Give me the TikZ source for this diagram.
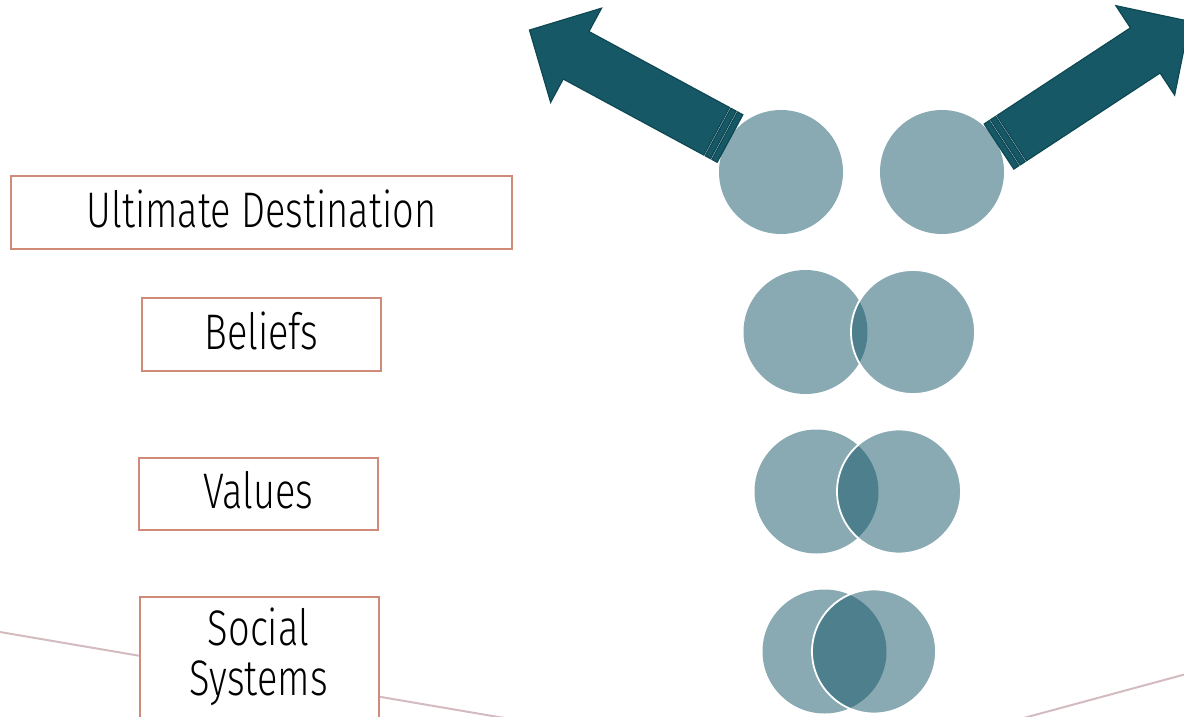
\documentclass[tikz,border=0pt]{standalone}
\usepackage{fontspec}
\setmainfont{Fira Sans}[UprightFont=* Light, FakeStretch=0.76]
\definecolor{boxc}{HTML}{CF8A78}
\definecolor{linec}{HTML}{D3BBC0}
\definecolor{circbase}{HTML}{105264}
\definecolor{arrfill}{HTML}{175866}
\definecolor{arrline}{HTML}{0E4853}
\tikzset{
  box/.style={draw=boxc, line width=2pt, fill=white, inner sep=0pt,
    font=\fontsize{50}{52}\selectfont, text height=35pt, text depth=6pt},
  lbl/.style={inner sep=0pt, font=\fontsize{50}{52}\selectfont},
  bgline/.style={draw=linec, line width=2pt},
  disc/.style={circle, minimum size=124pt, inner sep=0pt, fill=circbase, fill opacity=0.49},
  discw/.style={disc, draw=white, draw opacity=1, line width=1.8pt},
  arrpart/.style={fill=arrfill, draw=arrline, line width=1.2pt, line join=miter},
}
\begin{document}
\begin{tikzpicture}[x=1pt,y=-1pt]
\useasboundingbox (0,0) rectangle (1184,717);
\clip (0,0) rectangle (1184,717);
% background lines
\draw[bgline] (0,632) -- (510,719);
\draw[bgline] (1020,719) -- (1190,673);
% label boxes
\node[box, minimum width=501pt, minimum height=73pt] (ud) at (261.5,212.5) {Ultimate Destination};
\node[box, minimum width=239pt, minimum height=73pt] (bel) at (261.5,334.5) {Beliefs};
\node[box, minimum width=239pt, minimum height=72pt] (val) at (258.5,494) {Values};
\node[box, minimum width=239pt, minimum height=140pt, anchor=north west] (soc) at (139,596) {};
\node[lbl, anchor=base] (soc1) at (258.5,645) {Social};
\node[lbl, anchor=base] (soc2) at (258.5,695) {Systems};
% circles
\node[disc] (c1l) at (781,172) {};
\node[disc] (c1r) at (942,172) {};
\node[disc] (c2l) at (805.5,332) {};
\node[discw] (c2r) at (913,332) {};
\node[disc] (c3l) at (816.5,491.5) {};
\node[discw] (c3r) at (899,491.5) {};
\node[disc] (c4l) at (824.5,651.5) {};
\node[discw] (c4r) at (874,651.5) {};
% arrows
\foreach \px/\py/\ang in {730/138.5/151.6, 999/146.5/33.3}{
\begin{scope}[shift={(\px,\py)}, rotate=\ang]
  \draw[arrpart] (0,-27) rectangle (6,27);
  \draw[arrpart] (7.6,-27) rectangle (13.6,27);
  \draw[arrpart] (15.2,-27) -- (175,-27) -- (175,-53.5) -- (228,0) -- (175,53.5) -- (175,27) -- (15.2,27) -- cycle;
\end{scope}
}
\end{tikzpicture}
\end{document}
